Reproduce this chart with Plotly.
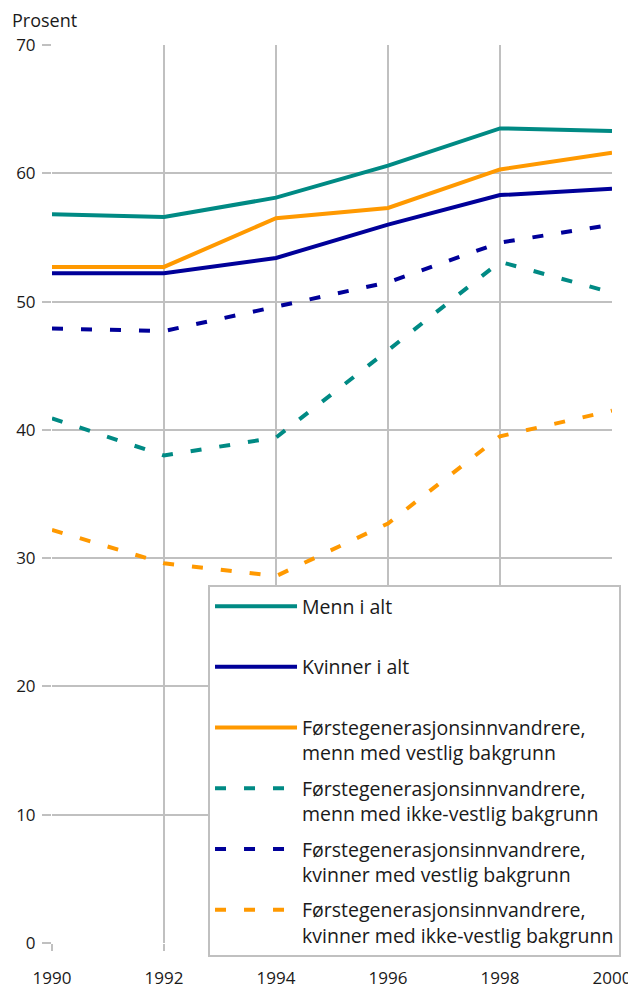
import plotly.graph_objects as go

years = [1990, 1992, 1994, 1996, 1998, 2000]
menn_i_alt = [56.8, 56.6, 58.1, 60.6, 63.5, 63.3]
kvinner_i_alt = [52.2, 52.2, 53.4, 56.0, 58.3, 58.8]
menn_vestlig = [52.7, 52.7, 56.5, 57.3, 60.3, 61.6]
menn_ikke_vestlig = [40.9, 38.0, 39.4, 46.2, 53.1, 50.7]
kvinner_vestlig = [47.9, 47.7, 49.6, 51.5, 54.6, 56.0]
kvinner_ikke_vestlig = [32.2, 29.6, 28.6, 32.7, 39.5, 41.5]
y_ticks = [0, 10, 20, 30, 40, 50, 60, 70]

names = [
    "Menn i alt<br> ",
    "Kvinner i alt<br> ",
    "Førstegenerasjonsinnvandrere,<br>menn med vestlig bakgrunn",
    "Førstegenerasjonsinnvandrere,<br>menn med ikke-vestlig bakgrunn",
    "Førstegenerasjonsinnvandrere,<br>kvinner med vestlig bakgrunn",
    "Førstegenerasjonsinnvandrere,<br>kvinner med ikke-vestlig bakgrunn",
]
series = [menn_i_alt, kvinner_i_alt, menn_vestlig, menn_ikke_vestlig, kvinner_vestlig, kvinner_ikke_vestlig]
colors = ["#008A84", "#000099", "#FF9900", "#008A84", "#000099", "#FF9900"]
dashes = ["solid", "solid", "solid", "11px,18px", "11px,18px", "11px,18px"]

fig = go.Figure()
for i, (n, s, c, d) in enumerate(zip(names, series, colors, dashes)):
    fig.add_trace(go.Scatter(
        x=years, y=s, name=n, mode="lines",
        line=dict(color=c, width=4, dash=d),
        legendgroup=f"g{i}", hoverinfo="skip",
    ))

FONT = "Open Sans"
GRID = "#C0C0C0"
TXT = "#1a1a1a"
fig.update_layout(
    width=636, height=989,
    margin=dict(l=44, r=32, t=37, b=54, autoexpand=False),
    paper_bgcolor="white", plot_bgcolor="white",
    font=dict(family=FONT, size=17, color=TXT),
    title=dict(
        text="Prosent", xref="container", yref="container",
        x=0.0063, y=0.9875, xanchor="left", yanchor="middle",
        font=dict(family=FONT, size=18, color=TXT),
    ),
    showlegend=True,
    legend=dict(
        x=0.2786, y=0.3987, xanchor="left", yanchor="top",
        bgcolor="white", bordercolor=GRID, borderwidth=2,
        valign="top", tracegroupgap=7, itemwidth=82,
        font=dict(family=FONT, size=19.5, color=TXT),
        traceorder="grouped",
    ),
    xaxis=dict(
        range=[1990, 2000], tickmode="array", tickvals=years,
        showgrid=True, gridcolor=GRID, gridwidth=2,
        ticks="outside", ticklen=7, tickcolor=GRID, tickwidth=2,
        showline=False, zeroline=False, ticklabelstandoff=13,
        tickfont=dict(family=FONT, size=17, color=TXT),
    ),
    yaxis=dict(
        range=[0, 70], tickmode="array", tickvals=y_ticks,
        showgrid=True, gridcolor=GRID, gridwidth=2,
        ticks="outside", ticklen=9, tickcolor=GRID, tickwidth=2,
        showline=False, zeroline=False, ticklabelstandoff=3,
        tickfont=dict(family=FONT, size=17, color=TXT),
    ),
)

fig.write_html("out.html")
